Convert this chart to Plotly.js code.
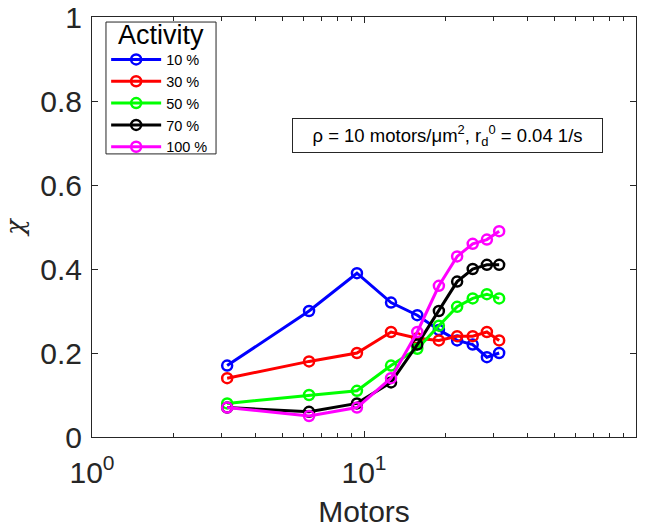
<!DOCTYPE html>
<html>
<head>
<meta charset="utf-8">
<script src="https://cdn.plot.ly/plotly-3.0.1.min.js"></script>
<style>html,body{margin:0;padding:0;background:#fff}#chart{width:658px;height:531px}</style>
</head>
<body>
<div id="chart"></div>
<script>
const motors = [3.14, 6.28, 9.42, 12.57, 15.7, 18.85, 22.0, 25.1, 28.3, 31.4];
const chi10  = [0.17, 0.30, 0.39, 0.32, 0.29, 0.255, 0.23, 0.22, 0.19, 0.20];
const chi30  = [0.14, 0.18, 0.20, 0.25, 0.235, 0.23, 0.24, 0.24, 0.25, 0.23];
const chi50  = [0.08, 0.10, 0.11, 0.17, 0.21, 0.265, 0.31, 0.33, 0.34, 0.33];
const chi70  = [0.07, 0.06, 0.08, 0.13, 0.22, 0.30, 0.37, 0.40, 0.41, 0.41];
const chi100 = [0.07, 0.05, 0.07, 0.14, 0.25, 0.36, 0.43, 0.46, 0.47, 0.49];
const seriesNames = ['10 %', '30 %', '50 %', '70 %', '100 %'];
const seriesColors = ['#0000ff', '#ff0000', '#00ff00', '#000000', '#ff00ff'];
const seriesValues = [chi10, chi30, chi50, chi70, chi100];
const yTickVals = [0, 0.2, 0.4, 0.6, 0.8, 1];
const yTickText = ['0', '0.2', '0.4', '0.6', '0.8', '1'];
const xTickVals = [1, 10, 100];
const xTickText = ['10<sup>0</sup>', '10<sup>1</sup>', '10<sup>2</sup>'];
const xMinorVals = [2, 3, 4, 5, 6, 7, 8, 9, 20, 30, 40, 50, 60, 70, 80, 90];
const legendTitle = 'Activity';

const traces = seriesValues.map((vals, i) => ({
  x: motors, y: vals, name: seriesNames[i], type: 'scatter', mode: 'lines+markers',
  line: {color: seriesColors[i], width: 3},
  marker: {symbol: 'circle-open', size: 10, color: seriesColors[i], line: {width: 2.5, color: seriesColors[i]}}
}));

const font = 'Liberation Sans, Arial, sans-serif';
const axisColor = '#262626';
const layout = {
  width: 658, height: 531,
  margin: {l: 92, r: 22, t: 17, b: 94},
  paper_bgcolor: '#fff', plot_bgcolor: '#fff',
  font: {family: font, color: axisColor},
  showlegend: true,
  xaxis: {
    type: 'log', range: [0, 2],
    tickvals: xTickVals, ticktext: xTickText,
    ticks: 'inside', ticklen: 6, tickcolor: axisColor, tickwidth: 1,
    ticklabelstandoff: 9,
    minor: {ticks: 'inside', ticklen: 4, tickcolor: axisColor, tickvals: xMinorVals},
    showline: true, linecolor: axisColor, linewidth: 1, mirror: 'allticks',
    showgrid: false, zeroline: false,
    tickfont: {size: 30, family: font, color: axisColor},
    title: {text: 'Motors', font: {size: 30, family: font, color: axisColor}, standoff: 12}
  },
  yaxis: {
    range: [0, 1],
    tickvals: yTickVals, ticktext: yTickText,
    ticks: 'inside', ticklen: 6, tickcolor: axisColor, tickwidth: 1,
    ticklabelstandoff: 3,
    showline: true, linecolor: axisColor, linewidth: 1, mirror: 'allticks',
    showgrid: false, zeroline: false,
    tickfont: {size: 30, family: font, color: axisColor},
    title: {text: '<i>χ</i>', font: {size: 26, family: 'DejaVu Serif, serif', color: axisColor}, standoff: 12}
  },
  legend: {
    x: 0.026, y: 0.937, xanchor: 'left', yanchor: 'top',
    bgcolor: 'rgba(0,0,0,0)', borderwidth: 0,
    font: {size: 14.5, family: font, color: '#000'},
    itemwidth: 50, tracegroupgap: 0
  },
  shapes: [{
    type: 'rect', xref: 'paper', yref: 'paper',
    x0: 0.0257, x1: 0.228, y0: 0.674, y1: 0.988,
    line: {color: axisColor, width: 1}, fillcolor: '#fff', layer: 'above'
  }],
  annotations: [{
    xref: 'paper', yref: 'paper', x: 0.1268, y: 0.957, xanchor: 'center', yanchor: 'middle',
    text: legendTitle, showarrow: false, font: {size: 27, family: font, color: '#000'}
  }, {
    xref: 'paper', yref: 'paper', x: 0.6526, y: 0.718, xanchor: 'center', yanchor: 'middle',
    text: 'ρ = 10 motors/μm<sup>2</sup>, r<sub>d</sub><sup>0</sup> = 0.04 1/s',
    showarrow: false, font: {size: 18.5, family: font, color: '#000'},
    width: 305, height: 29, align: 'center', valign: 'middle',
    bordercolor: axisColor, borderwidth: 1, borderpad: 2, bgcolor: '#fff'
  }]
};
Plotly.newPlot('chart', traces, layout, {displayModeBar: false, staticPlot: true});
</script>
</body>
</html>
